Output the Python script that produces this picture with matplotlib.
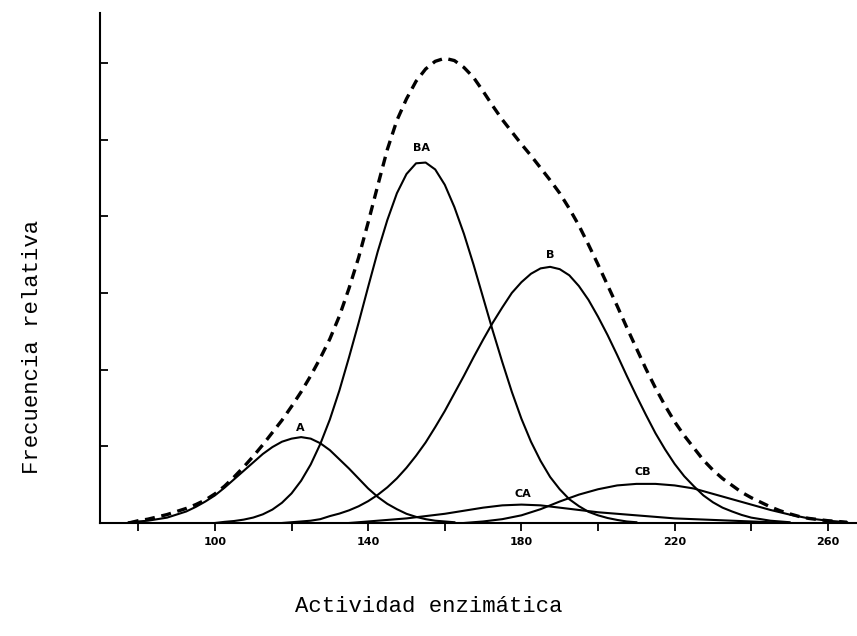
import numpy as np
import matplotlib.pyplot as plt

# valores (actividad enzimatica vs frecuencia relativa)
x_a = np.arange(77.5, 162.6, 2.5)
y_a = [0.01, 0.02, 0.03, 0.05, 0.07, 0.11, 0.15, 0.21, 0.28, 0.36,
       0.46, 0.57, 0.68, 0.79, 0.90, 0.99, 1.06, 1.10, 1.12, 1.10,
       1.04, 0.95, 0.83, 0.71, 0.58, 0.45, 0.34, 0.25, 0.18, 0.12,
       0.08, 0.05, 0.03, 0.02, 0.01]

x_ba = np.arange(100, 210.1, 2.5)
y_ba = [0.0, 0.015, 0.026, 0.044, 0.071, 0.113, 0.175, 0.264, 0.386, 0.551,
        0.763, 1.03, 1.35, 1.73, 2.16, 2.61, 3.08, 3.54, 3.95, 4.30,
        4.55, 4.69, 4.70, 4.61, 4.41, 4.12, 3.77, 3.37, 2.94, 2.51,
        2.10, 1.71, 1.36, 1.06, 0.81, 0.60, 0.44, 0.31, 0.22, 0.146,
        0.10, 0.065, 0.04, 0.02, 0.01]

x_b = np.arange(117.5, 250.1, 2.5)
y_b = [0.0, 0.01, 0.02, 0.03, 0.05, 0.09, 0.123, 0.165, 0.218, 0.285,
       0.367, 0.465, 0.582, 0.72, 0.877, 1.05, 1.25, 1.46, 1.69, 1.92,
       2.16, 2.39, 2.61, 2.81, 3.00, 3.14, 3.25, 3.32, 3.34, 3.31,
       3.23, 3.09, 2.91, 2.69, 2.45, 2.19, 1.92, 1.66, 1.41, 1.17,
       0.96, 0.77, 0.61, 0.48, 0.36, 0.27, 0.20, 0.15, 0.105, 0.07,
       0.05, 0.03, 0.02, 0.01]

x_ca = [135, 140, 145, 150, 155, 160, 165, 170, 175, 180, 185, 190, 195, 200, 205, 210, 215, 220, 225, 230, 235, 240, 245, 250]
y_ca = [0.0, 0.02, 0.04, 0.06, 0.09, 0.12, 0.16, 0.20, 0.23, 0.24, 0.23, 0.20, 0.17, 0.14, 0.12, 0.10, 0.08, 0.06, 0.05, 0.04, 0.03, 0.02, 0.01, 0.0]

x_cb = [165, 170, 175, 180, 185, 190, 195, 200, 205, 210, 215, 220, 225, 230, 235, 240, 245, 250, 255, 260, 265]
y_cb = [0.0, 0.02, 0.05, 0.10, 0.18, 0.28, 0.37, 0.44, 0.49, 0.51, 0.51, 0.49, 0.45, 0.38, 0.31, 0.24, 0.17, 0.11, 0.06, 0.03, 0.01]

x_tot = np.arange(77.5, 265.1, 2.5)
y_tot = [0.0, 0.03, 0.05, 0.08, 0.11, 0.15, 0.19, 0.24, 0.30, 0.38,
         0.48, 0.60, 0.73, 0.87, 1.02, 1.18, 1.34, 1.52, 1.71, 1.92,
         2.15, 2.40, 2.70, 3.06, 3.46, 3.92, 4.40, 4.87, 5.25, 5.53,
         5.76, 5.92, 6.02, 6.06, 6.03, 5.94, 5.81, 5.63, 5.44, 5.26,
         5.10, 4.94, 4.79, 4.63, 4.47, 4.30, 4.10, 3.88, 3.63, 3.37,
         3.10, 2.83, 2.55, 2.28, 2.01, 1.76, 1.53, 1.32, 1.14, 0.98,
         0.82, 0.69, 0.58, 0.49, 0.40, 0.33, 0.27, 0.21, 0.16, 0.12,
         0.085, 0.06, 0.045, 0.03, 0.02, 0.01]

etiquetas = ['A', 'BA', 'B', 'CA', 'CB']
pos_etiquetas = [(122.2, 1.24), (153.8, 4.89), (187.5, 3.49), (180.4, 0.38), (211.8, 0.66)]

xticks_mayores = [100, 140, 180, 220, 260]
xticks_menores = [80, 120, 160, 200, 240]
yticks = [1, 2, 3, 4, 5, 6]

fig = plt.figure(figsize=(8.57, 6.36), dpi=100)
ax = fig.add_axes([100 / 857, 113 / 636, 757 / 857, 510 / 636])

# componentes
for xs, ys in [(x_a, y_a), (x_ba, y_ba), (x_b, y_b), (x_ca, y_ca), (x_cb, y_cb)]:
    ax.plot(xs, ys, color='black', lw=1.5, solid_joinstyle='round')

# curva total (discontinua)
linea, = ax.plot(x_tot, y_tot, color='black', lw=2.4)
linea.set_dashes([3, 2])

for texto, (xt, yt) in zip(etiquetas, pos_etiquetas):
    ax.text(xt, yt, texto, ha='center', va='center', fontsize=8, fontweight='bold')

ax.set_xlim(70, 267.6)
ax.set_ylim(0, 6.65)

ax.spines['top'].set_visible(False)
ax.spines['right'].set_visible(False)
ax.spines['left'].set_linewidth(1.5)
ax.spines['bottom'].set_linewidth(1.5)

ax.set_xticks(xticks_mayores)
ax.set_xticklabels([str(v) for v in xticks_mayores], fontsize=8, fontweight='bold')
ax.set_xticks(xticks_menores, minor=True)
ax.tick_params(axis='x', which='both', direction='out', length=6, width=1.3, pad=4)
ax.set_yticks(yticks)
ax.set_yticklabels([])
ax.tick_params(axis='y', direction='in', length=6, width=1.3)

fig.text(429 / 857, 1 - 606 / 636, 'Actividad enzimática', ha='center', va='center',
         family='Liberation Mono', fontsize=16)
fig.text(33 / 857, 1 - 347 / 636, 'Frecuencia relativa', ha='center', va='center',
         rotation=90, family='Liberation Mono', fontsize=16)

fig.savefig('out.png', dpi=100)
